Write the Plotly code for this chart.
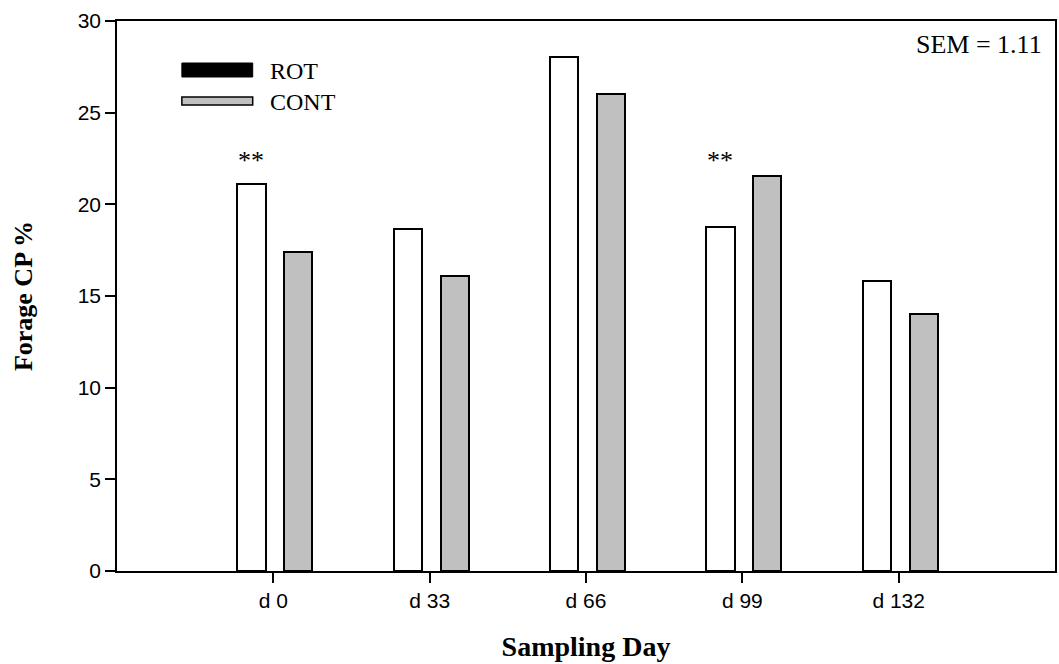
import plotly.graph_objects as go

days = ["d 0", "d 33", "d 66", "d 99", "d 132"]
rot = [21.1, 18.65, 28.05, 18.75, 15.8]
cont = [17.4, 16.1, 26.0, 21.55, 14.0]
sig = ["**", "", "", "**", ""]
y_ticks = [0, 5, 10, 15, 20, 25, 30]
sem_text = "SEM = 1.11"

xpos = list(range(len(days)))
W = 0.18
SIG_Y = 22.4

SERIF = "Liberation Serif"
SANS = "Liberation Sans"

fig = go.Figure()
fig.add_trace(go.Bar(x=xpos, y=rot, name="ROT", width=W, offset=-0.23,
                     marker=dict(color="white", line=dict(color="black", width=2)),
                     showlegend=False))
fig.add_trace(go.Bar(x=xpos, y=cont, name="CONT", width=W, offset=0.07,
                     marker=dict(color="#c0c0c0", line=dict(color="black", width=2)),
                     showlegend=False))

for i, s in enumerate(sig):
    if s:
        fig.add_annotation(x=i - 0.23 + W / 2, y=SIG_Y, text=s, showarrow=False,
                           yanchor="middle",
                           font=dict(family=SERIF, size=26, color="black"))

def px(x):
    return (x - 117) / 940

def py(y):
    return (571 - y) / 550

# legend drawn manually
fig.add_shape(type="rect", xref="paper", yref="paper",
              x0=px(182), x1=px(253), y0=py(77), y1=py(63),
              fillcolor="black", line=dict(color="black", width=1))
fig.add_shape(type="rect", xref="paper", yref="paper",
              x0=px(182), x1=px(253), y0=py(105), y1=py(97),
              fillcolor="#c0c0c0", line=dict(color="black", width=1.5))
fig.add_annotation(xref="paper", yref="paper", x=px(268), y=py(71),
                   text="ROT", showarrow=False, xanchor="left", yanchor="middle",
                   font=dict(family=SERIF, size=24, color="black"))
fig.add_annotation(xref="paper", yref="paper", x=px(268), y=py(102),
                   text="CONT", showarrow=False, xanchor="left", yanchor="middle",
                   font=dict(family=SERIF, size=24, color="black"))
fig.add_annotation(xref="paper", yref="paper", x=px(1046), y=py(45),
                   text=sem_text, showarrow=False, xanchor="right", yanchor="middle",
                   font=dict(family=SERIF, size=26, color="black"))

fig.update_layout(
    width=1059, height=664,
    margin=dict(l=117, r=2, t=21, b=93),
    paper_bgcolor="white", plot_bgcolor="white",
    bargap=0, barmode="overlay",
    xaxis=dict(range=[-1, 5], tickmode="array", tickvals=xpos, ticktext=days,
               showline=True, linecolor="black", linewidth=1.5, mirror=True,
               ticks="outside", ticklen=10, tickwidth=1.5, tickcolor="black",
               showgrid=False, zeroline=False,
               tickfont=dict(family=SANS, size=21, color="black"),
               title=dict(text="<b>Sampling Day</b>", standoff=25,
                          font=dict(family=SERIF, size=28, color="black"))),
    yaxis=dict(range=[0, 30], tickmode="array", tickvals=y_ticks,
               showline=True, linecolor="black", linewidth=1.5, mirror=True,
               ticks="outside", ticklen=10, tickwidth=1.5, tickcolor="black",
               showgrid=False, zeroline=False,
               tickfont=dict(family=SANS, size=21, color="black"),
               title=dict(text="<b>Forage CP %</b>", standoff=38,
                          font=dict(family=SERIF, size=26, color="black"))),
)

fig.write_html("out.html", config={"displayModeBar": False},
               post_script="document.body.style.margin='0px';document.body.style.overflow='hidden';")
